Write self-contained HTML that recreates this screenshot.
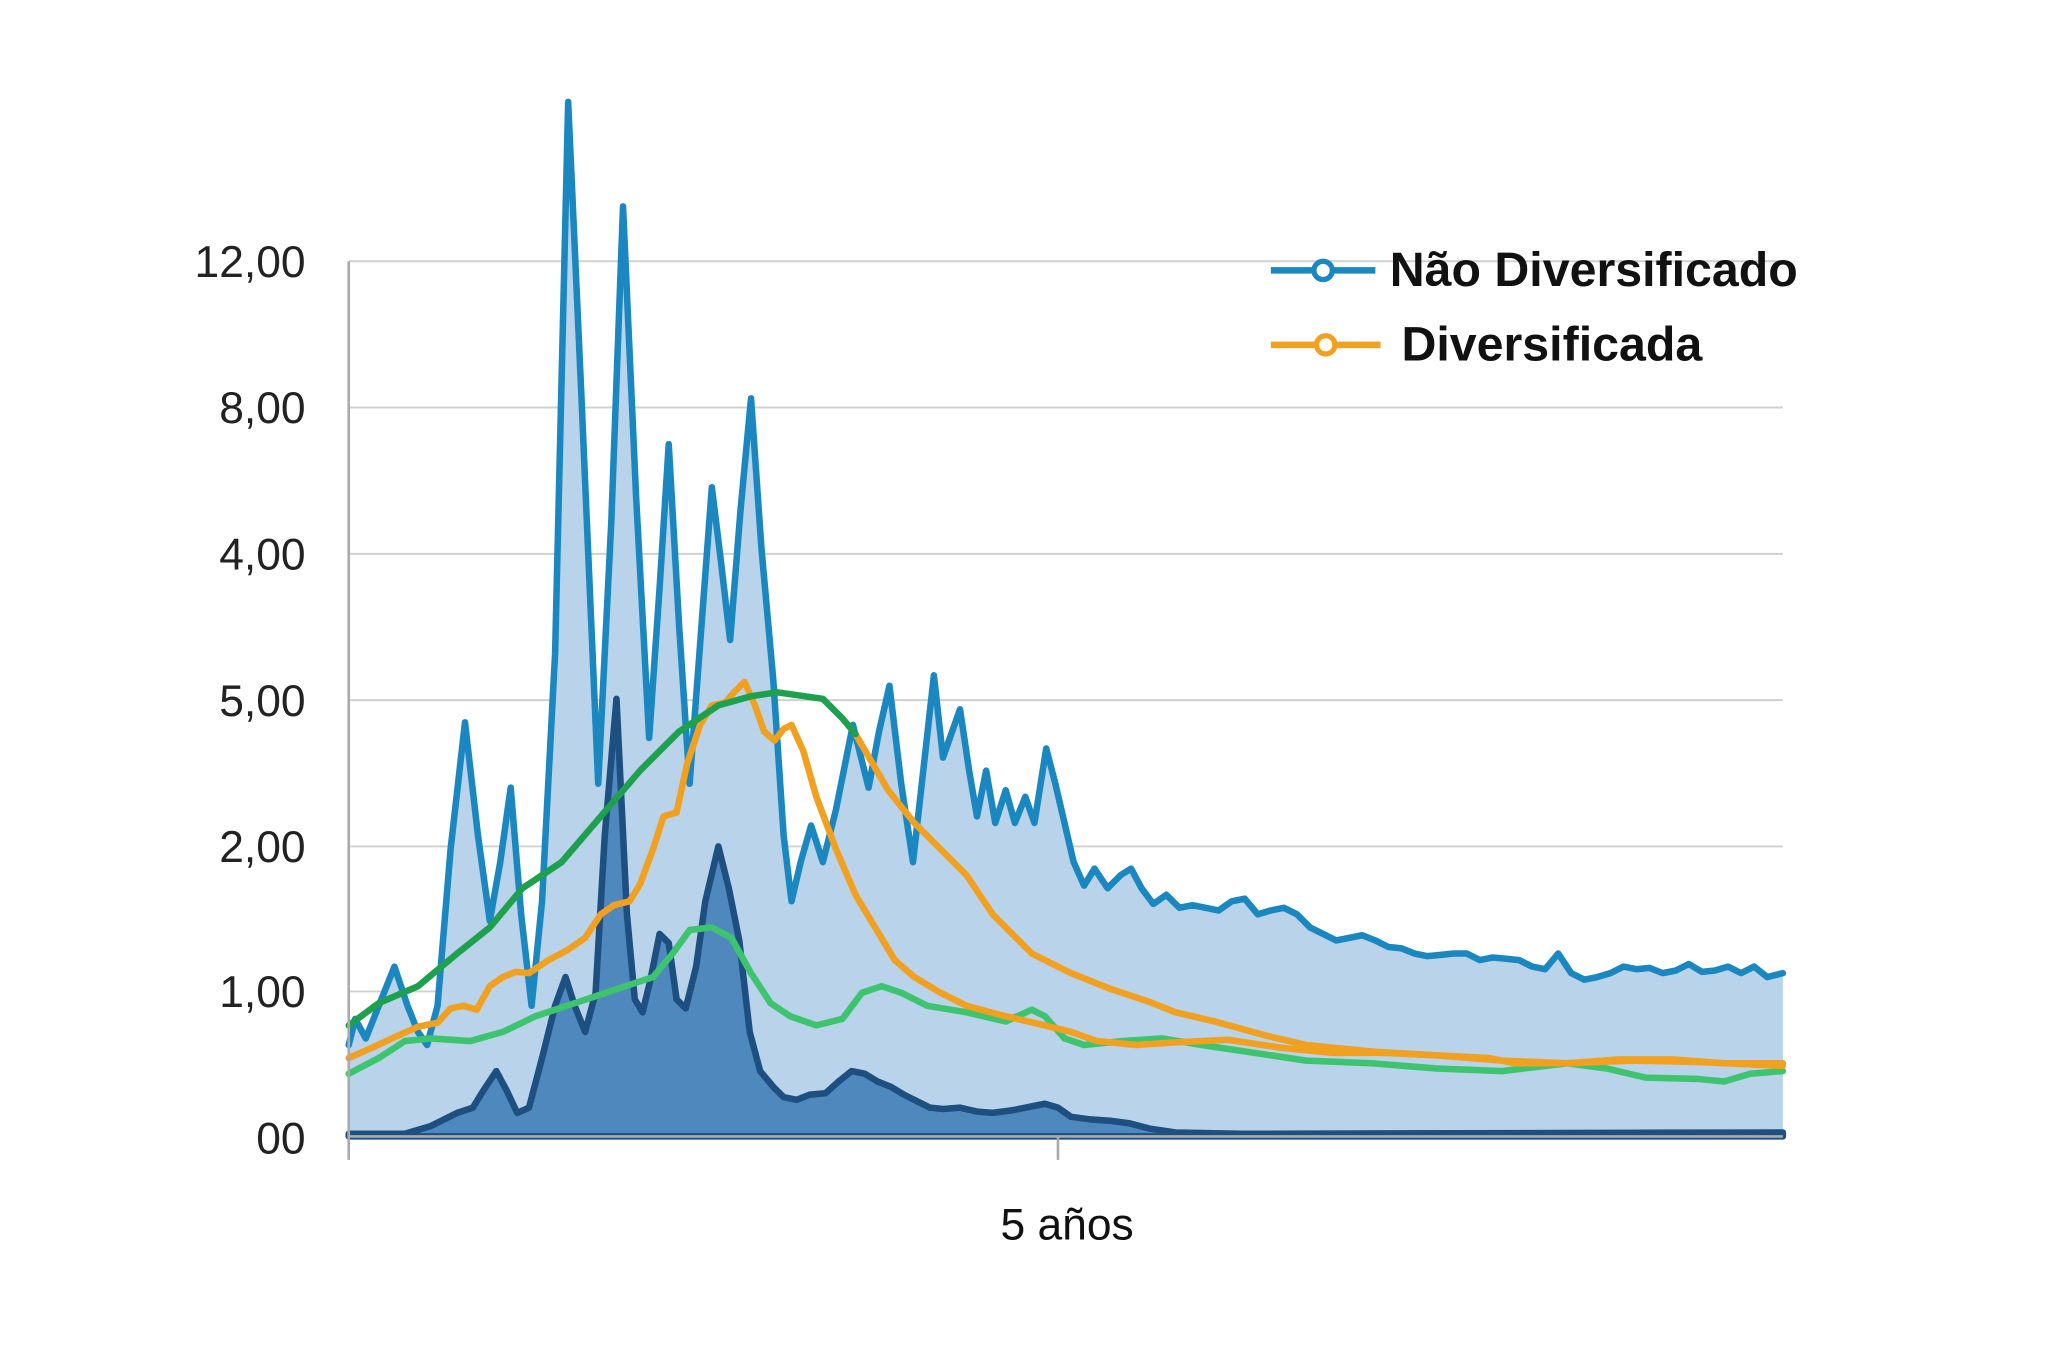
<!DOCTYPE html>
<html><head><meta charset="utf-8"><style>
html,body{margin:0;padding:0;background:#fff;}
svg{display:block;}
text{font-family:"Liberation Sans",sans-serif;}
</style></head><body>
<svg width="2048" height="1365" viewBox="0 0 1568 1045" preserveAspectRatio="none" xmlns="http://www.w3.org/2000/svg">
<rect width="1568" height="1045" fill="#fff"/>
<g stroke="#d0d0d0" stroke-width="1.5">
<line x1="267" y1="200" x2="1365" y2="200"/><line x1="267" y1="312" x2="1365" y2="312"/>
<line x1="267" y1="424" x2="1365" y2="424"/><line x1="267" y1="536" x2="1365" y2="536"/>
<line x1="267" y1="648" x2="1365" y2="648"/><line x1="267" y1="759" x2="1365" y2="759"/>
</g>
<g font-size="34" fill="#222" text-anchor="end">
<text x="234" y="212">12,00</text><text x="234" y="324">8,00</text><text x="234" y="436">4,00</text>
<text x="234" y="548">5,00</text><text x="234" y="660">2,00</text><text x="234" y="771">1,00</text><text x="234" y="883">00</text>
</g>
<path fill="#b8d3ea" d="M267,870 L267,800 272,780 280,795 290,770 302,740 312,770 320,790 327,800 335,770 345,650 356,553 366,640 375,705 383,660 391,603 399,700 407,770 415,690 425,500 435,78 445,300 458,600 468,400 477,158 487,380 497,565 505,450 512,340 520,480 528,600 537,480 545,373 552,430 559,490 567,390 575,305 583,420 592,520 600,640 606,690 613,660 621,632 630,660 640,620 653,555 665,603 673,560 681,525 690,600 699,660 708,580 715,517 722,580 729,560 735,543 742,590 748,625 755,590 762,630 770,605 777,630 785,610 792,630 801,573 808,600 815,630 822,660 830,678 838,665 848,680 858,670 866,665 874,680 883,692 893,685 903,695 913,693 923,695 933,697 943,690 953,688 963,700 973,697 983,695 993,700 1003,710 1013,715 1023,720 1033,718 1043,716 1053,720 1063,725 1073,726 1083,730 1093,732 1103,731 1113,730 1123,730 1133,735 1143,733 1153,734 1163,735 1173,740 1183,742 1193,730 1203,745 1213,750 1223,748 1233,745 1243,740 1253,742 1263,741 1273,745 1283,743 1293,738 1303,744 1313,743 1323,740 1333,745 1343,740 1353,748 1365,745 L1365,870 Z"/>
<path fill="#4f88bd" stroke="#1d4f80" stroke-width="5" stroke-linejoin="round" d="M267,868 L310,868 330,862 350,852 362,848 370,835 380,820 388,835 396,852 405,848 415,810 425,770 433,748 440,770 448,790 456,760 463,640 472,535 480,700 486,765 492,775 498,750 505,715 512,722 518,765 525,772 533,740 540,690 550,648 558,680 566,720 574,790 582,820 592,832 600,840 610,842 620,838 632,837 642,828 652,820 662,822 672,828 682,832 692,838 702,843 712,848 722,849 735,848 748,851 760,852 775,850 790,847 800,845 810,848 820,855 835,857 850,858 865,860 880,864 900,867 950,868 1365,867 L1365,870 267,870 Z"/>
<g fill="none" stroke-width="5" stroke-linejoin="round" stroke-linecap="round">
<polyline stroke="#1a87c0" points="267,800 272,780 280,795 290,770 302,740 312,770 320,790 327,800 335,770 345,650 356,553 366,640 375,705 383,660 391,603 399,700 407,770 415,690 425,500 435,78 445,300 458,600 468,400 477,158 487,380 497,565 505,450 512,340 520,480 528,600 537,480 545,373 552,430 559,490 567,390 575,305 583,420 592,520 600,640 606,690 613,660 621,632 630,660 640,620 653,555 665,603 673,560 681,525 690,600 699,660 708,580 715,517 722,580 729,560 735,543 742,590 748,625 755,590 762,630 770,605 777,630 785,610 792,630 801,573 808,600 815,630 822,660 830,678 838,665 848,680 858,670 866,665 874,680 883,692 893,685 903,695 913,693 923,695 933,697 943,690 953,688 963,700 973,697 983,695 993,700 1003,710 1013,715 1023,720 1033,718 1043,716 1053,720 1063,725 1073,726 1083,730 1093,732 1103,731 1113,730 1123,730 1133,735 1143,733 1153,734 1163,735 1173,740 1183,742 1193,730 1203,745 1213,750 1223,748 1233,745 1243,740 1253,742 1263,741 1273,745 1283,743 1293,738 1303,744 1313,743 1323,740 1333,745 1343,740 1353,748 1365,745"/>
<polyline stroke="#3ec46f" points="267,822 290,810 310,797 330,795 360,797 385,790 410,778 440,768 470,758 500,748 515,730 528,712 545,710 560,718 575,745 590,768 605,778 625,785 645,780 660,760 675,755 690,760 710,770 740,775 770,782 790,773 800,778 815,795 830,800 860,797 890,795 920,800 960,806 1000,812 1050,814 1100,818 1150,820 1200,814 1230,818 1260,825 1300,826 1320,828 1340,822 1365,820"/>
<polyline stroke="#f2a020" points="267,810 285,802 300,795 320,786 335,783 345,772 355,770 365,773 375,755 385,748 395,744 405,745 420,735 435,727 448,718 460,700 470,693 482,690 490,677 500,650 508,625 518,622 526,585 536,555 545,540 555,538 562,530 570,522 578,540 585,560 593,567 600,558 606,555 615,575 625,610 640,650 655,685 670,710 685,735 700,748 720,760 740,770 770,778 800,785 820,790 840,797 870,800 900,798 940,796 980,802 1020,806 1060,806 1100,808 1140,810 1160,814 1200,814 1240,811 1280,811 1320,814 1365,814"/>
<polyline stroke="#f2a020" points="655,562 680,605 700,630 720,650 740,670 760,700 790,730 820,745 850,757 880,767 900,775 930,782 970,793 1000,800 1050,805 1100,808 1150,812 1200,814 1250,812 1300,813 1365,816"/>
<polyline stroke="#1ea04e" points="267,785 290,768 320,755 350,730 375,710 400,680 430,660 460,625 490,590 520,560 550,540 575,533 595,530 630,535 645,550 655,562"/>
</g>
<g stroke="#aaa" stroke-width="2"><line x1="267" y1="200" x2="267" y2="888"/><line x1="267" y1="870" x2="1365" y2="870"/><line x1="810" y1="870" x2="810" y2="888"/></g>
<text x="817" y="949" font-size="34" fill="#111" text-anchor="middle">5 años</text>
<line x1="973" y1="207" x2="1053" y2="207" stroke="#1a87c0" stroke-width="5"/>
<circle cx="1013" cy="207" r="7" fill="#fff" stroke="#1a87c0" stroke-width="4"/>
<text x="1064" y="219" font-size="37" font-weight="bold" fill="#111">Não Diversificado</text>
<line x1="973" y1="264" x2="1057" y2="264" stroke="#f2a020" stroke-width="5"/>
<circle cx="1015" cy="264" r="7" fill="#fff" stroke="#f2a020" stroke-width="4"/>
<text x="1073" y="276" font-size="37" font-weight="bold" fill="#111">Diversificada</text>
</svg>
</body></html>
